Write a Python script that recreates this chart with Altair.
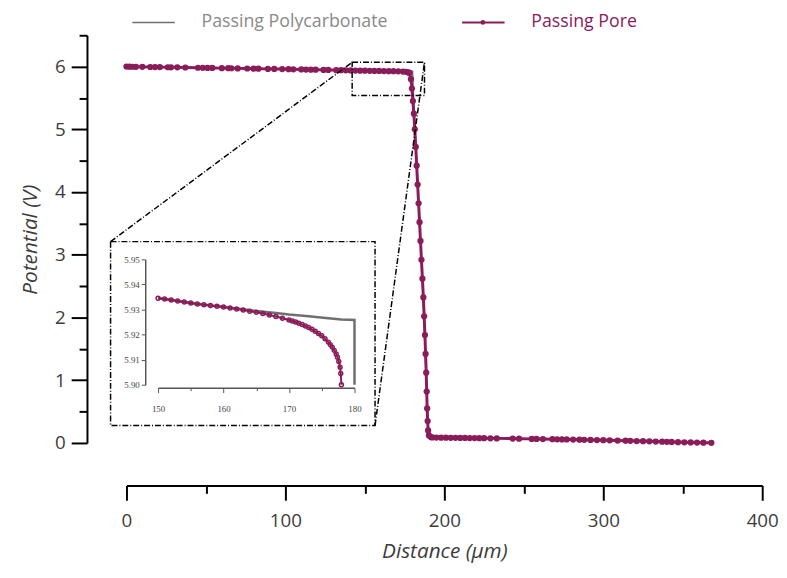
import altair as alt
import pandas as pd

# ---------------- data ----------------
# Passing Pore (main panel)
pore_x = [0, 2, 4, 6, 10, 15, 18, 21, 26, 28, 32, 37, 45, 48, 51, 54, 60, 64, 66, 70,
          76, 80, 83, 89, 93, 98, 102, 105, 110, 113, 116, 119, 124, 127, 132, 135, 138,
          141, 144, 147, 150, 153, 156, 159, 162, 165, 168, 171, 174, 176, 177.5, 178,
          179, 179.6, 180.2, 180.8, 181.4, 182, 182.6, 183.2, 183.8, 184.4, 185, 185.6,
          186.2, 186.8, 187.3, 187.8, 188.2, 188.6, 188.9, 189.2, 189.5, 189.8, 190.3,
          191.5, 192.5, 195, 198, 201, 204, 207, 210, 213, 216, 219, 222, 225, 229, 233,
          243, 247, 255, 258, 262, 268, 271, 274, 277, 281, 285, 288, 292, 296, 300, 304,
          309, 314, 317, 321, 325, 329, 333, 337, 340, 343, 347, 351, 355, 359, 363, 368]
pore_y = [6.000, 5.999, 5.998, 5.997, 5.996, 5.994, 5.993, 5.992, 5.990, 5.989, 5.988,
          5.986, 5.982, 5.981, 5.980, 5.979, 5.976, 5.975, 5.974, 5.972, 5.970, 5.968,
          5.967, 5.964, 5.963, 5.961, 5.959, 5.958, 5.955, 5.954, 5.952, 5.951, 5.948,
          5.947, 5.944, 5.943, 5.941, 5.940, 5.938, 5.936, 5.9345, 5.9335, 5.932, 5.931,
          5.930, 5.928, 5.927, 5.925, 5.921, 5.917, 5.908, 5.900,
          5.80, 5.65, 5.45, 5.25, 5.00, 4.72, 4.42, 4.12, 3.82, 3.52, 3.22, 2.92, 2.62,
          2.32, 2.02, 1.72, 1.42, 1.12, 0.82, 0.55, 0.35, 0.20, 0.12, 0.095,
          0.088, 0.086, 0.085, 0.084, 0.083, 0.082, 0.081, 0.080, 0.079, 0.078, 0.077,
          0.076, 0.075, 0.073, 0.070, 0.068, 0.065, 0.064, 0.062, 0.060, 0.059, 0.057,
          0.056, 0.054, 0.052, 0.050, 0.048, 0.046, 0.044, 0.042, 0.039, 0.036, 0.034,
          0.031, 0.028, 0.026, 0.023, 0.020, 0.018, 0.016, 0.013, 0.011, 0.009, 0.007,
          0.005, 0.003]

# Passing Polycarbonate (main panel, mostly hidden under the pore curve)
poly_x = [0, 60, 120, 150, 165, 180, 181, 183, 185, 187, 189, 190, 191, 250, 300, 368]
poly_y = [6.000, 5.976, 5.951, 5.9345, 5.9294, 5.9258, 5.30, 4.30, 3.20, 2.10, 0.70,
          0.20, 0.10, 0.067, 0.044, 0.003]

# Inset (150-180 um)
inset_pore_x = [150, 151, 152, 153, 154, 155, 156, 157, 158, 159, 160, 161, 162, 163,
                164, 165, 166, 167, 168, 169, 170, 170.5, 171, 171.5, 172, 172.5, 173,
                173.5, 174, 174.5, 175, 175.5, 176, 176.3, 176.6, 176.9, 177.2, 177.4,
                177.6, 177.8, 177.9, 178]
inset_pore_y = [5.9345, 5.9342, 5.9338, 5.9334, 5.9330, 5.9326, 5.9322, 5.9319, 5.9316,
                5.9313, 5.9310, 5.9306, 5.9302, 5.9298, 5.9293, 5.9289, 5.9284, 5.9278,
                5.9272, 5.9265, 5.9258, 5.9254, 5.9250, 5.9245, 5.9240, 5.9234, 5.9228,
                5.9221, 5.9213, 5.9204, 5.9195, 5.9183, 5.9170, 5.9160, 5.9150, 5.9137,
                5.9123, 5.9110, 5.9093, 5.9070, 5.9045, 5.9000]
inset_poly_x = [150, 152, 155, 158, 160, 163, 165, 168, 170, 173, 176, 178, 180, 180]
inset_poly_y = [5.9345, 5.9338, 5.9326, 5.9316, 5.9310, 5.9301, 5.9294, 5.9286, 5.9280,
                5.9273, 5.9265, 5.9260, 5.9258, 5.9000]

# axes / labels
x_ticks = [0, 50, 100, 150, 200, 250, 300, 350, 400]
y_ticks = [0, 0.5, 1, 1.5, 2, 2.5, 3, 3.5, 4, 4.5, 5, 5.5, 6, 6.5]
inset_x_ticks = [150, 155, 160, 165, 170, 175, 180]
inset_y_ticks = [5.90, 5.91, 5.92, 5.93, 5.94, 5.95]
legend_labels = ["Passing Polycarbonate", "Passing Pore"]
x_title = "Distance (μm)"
y_title = "Potential (V)"

# zoom annotation (main-panel data coordinates)
zoom_box_x = [142, 187.5]
zoom_box_y = [5.54, 6.07]
inset_box_x = [-10, 156.4]
inset_box_y = [0.28, 3.21]
connector_x = [-10, 156.4]
connector_x2 = [142, 187.5]
connector_y = [3.21, 0.28]
connector_y2 = [6.07, 6.07]

# ---------------- styling ----------------
PURPLE = "#8a1c5a"
GRAY = "#6f6f6f"
TEXT = "#3c3c3c"
FONT = "Open Sans"
DASH = [6, 2, 1, 2]
W, H = 644, 413
LEG_Y = -13

pore_df = pd.DataFrame({"x": pore_x, "y": pore_y})
poly_df = pd.DataFrame({"x": poly_x, "y": poly_y})
ipore_df = pd.DataFrame({"ix": inset_pore_x, "iy": inset_pore_y})
ipoly_df = pd.DataFrame({"ix": inset_poly_x, "iy": inset_poly_y})
box_df = pd.DataFrame({"x": [zoom_box_x[0], inset_box_x[0]], "x2": [zoom_box_x[1], inset_box_x[1]],
                       "y": [zoom_box_y[0], inset_box_y[0]], "y2": [zoom_box_y[1], inset_box_y[1]]})
conn_df = pd.DataFrame({"x": connector_x, "x2": connector_x2, "y": connector_y, "y2": connector_y2})

x_scale = alt.Scale(domain=[0, 400], nice=False, zero=False)
y_scale = alt.Scale(domain=[0, 6.5], nice=False, zero=False)

x_axis = alt.Axis(
    values=x_ticks, format="d", labelExpr="datum.value % 100 === 0 ? datum.label : ''",
    tickSize={"condition": {"test": "datum.value % 100 !== 0", "value": 8}, "value": 15},
    offset=43, grid=False, domainColor="black", domainWidth=2, tickColor="black", tickWidth=2,
    labelFont=FONT, labelFontSize=19, labelColor=TEXT, labelPadding=12, labelOverlap=False,
    labelFlush=False, title=x_title, titleFont=FONT, titleFontSize=21, titleFontStyle="italic",
    titleFontWeight="normal", titleColor=TEXT, titlePadding=10,
)
y_axis = alt.Axis(
    values=y_ticks, format=".0f", labelExpr="datum.value % 1 === 0 ? datum.label : ''",
    tickSize={"condition": {"test": "datum.value % 1 !== 0", "value": 8}, "value": 16},
    offset=40, grid=False, domainColor="black", domainWidth=2, tickColor="black", tickWidth=2,
    labelFont=FONT, labelFontSize=19, labelColor=TEXT, labelPadding=6, labelOverlap=False,
    labelFlush=False, title=y_title, titleFont=FONT, titleFontSize=21, titleFontStyle="italic",
    titleFontWeight="normal", titleColor=TEXT, titlePadding=14,
)

X = alt.X("x:Q", scale=x_scale, axis=x_axis)
Y = alt.Y("y:Q", scale=y_scale, axis=y_axis)

poly_line = alt.Chart(poly_df).mark_line(color=GRAY, strokeWidth=1.5).encode(x=X, y=Y)
pore_line = alt.Chart(pore_df).mark_line(color=PURPLE, strokeWidth=3).encode(x=X, y=Y)
pore_pts = alt.Chart(pore_df).mark_circle(color=PURPLE, size=40, opacity=1).encode(x=X, y=Y)
boxes = alt.Chart(box_df).mark_rect(fillOpacity=0, stroke="black", strokeWidth=1.5,
                                    strokeDash=DASH).encode(x=X, x2="x2:Q", y=Y, y2="y2:Q")
conns = alt.Chart(conn_df).mark_rule(color="black", strokeWidth=1.5,
                                      strokeDash=DASH).encode(x=X, x2="x2:Q", y=Y, y2="y2:Q")

# legend (drawn above the plot area)
one = alt.Data(values=[{"k": 0}])
leg_gray_line = alt.Chart(one).mark_rule(color=GRAY, strokeWidth=1.5).encode(
    x=alt.value(6), x2=alt.value(49), y=alt.value(LEG_Y))
leg_gray_text = alt.Chart(one).mark_text(font=FONT, fontSize=18, align="left", baseline="middle",
                                         color="#8a8a8a").encode(
    x=alt.value(76), y=alt.value(LEG_Y), text=alt.value(legend_labels[0]))
leg_pur_line = alt.Chart(one).mark_rule(color=PURPLE, strokeWidth=2).encode(
    x=alt.value(340), x2=alt.value(383), y=alt.value(LEG_Y))
leg_pur_dot = alt.Chart(one).mark_circle(color=PURPLE, size=22, opacity=1).encode(
    x=alt.value(361), y=alt.value(LEG_Y))
leg_pur_text = alt.Chart(one).mark_text(font=FONT, fontSize=18, align="left", baseline="middle",
                                        color=PURPLE).encode(
    x=alt.value(410), y=alt.value(LEG_Y), text=alt.value(legend_labels[1]))

main = alt.layer(poly_line, pore_line, pore_pts, boxes, conns,
                 leg_gray_line, leg_gray_text, leg_pur_line, leg_pur_dot, leg_pur_text)

# inset
ix_scale = alt.Scale(domain=[150, 180], range=[32, 231], nice=False, zero=False)
iy_scale = alt.Scale(domain=[5.90, 5.95], range=[354, 227], nice=False, zero=False)
ix_axis = alt.Axis(
    orient="bottom", offset=-56, values=inset_x_ticks, format="d",
    labelExpr="datum.value % 10 === 0 ? datum.label : ''",
    tickSize={"condition": {"test": "datum.value % 10 !== 0", "value": 3}, "value": 5},
    grid=False, domainColor="#555555", domainWidth=1.5, tickColor="#555555", tickWidth=1,
    labelFont="Liberation Serif", labelFontSize=9, labelColor="#444444", labelPadding=12,
    labelOverlap=False, labelFlush=False, title=None,
)
iy_axis = alt.Axis(
    orient="left", offset=-19, values=inset_y_ticks, format=".2f",
    tickSize=4, grid=False, domainColor="#555555", domainWidth=1.5, tickColor="#555555",
    tickWidth=1, labelFont="Liberation Serif", labelFontSize=9, labelColor="#444444",
    labelPadding=2, labelOverlap=False, labelFlush=False, title=None,
)
IX = alt.X("ix:Q", scale=ix_scale, axis=ix_axis)
IY = alt.Y("iy:Q", scale=iy_scale, axis=iy_axis)

ipoly_line = alt.Chart(ipoly_df).mark_line(color=GRAY, strokeWidth=2.5).encode(x=IX, y=IY)
ipore_line = alt.Chart(ipore_df).mark_line(color=PURPLE, strokeWidth=2).encode(x=IX, y=IY)
ipore_pts = alt.Chart(ipore_df).mark_point(color=PURPLE, size=16, strokeWidth=1.5,
                                           opacity=1).encode(x=IX, y=IY)
inset = alt.layer(ipoly_line, ipore_line, ipore_pts)

chart = alt.layer(main, inset).resolve_scale(x="independent", y="independent").properties(
    width=W, height=H, background="white",
    padding={"left": 12, "top": 2, "right": 0, "bottom": 0}
).configure_view(stroke=None, strokeWidth=0)

chart.save("out.html", embed_options={"renderer": "svg", "actions": False})
